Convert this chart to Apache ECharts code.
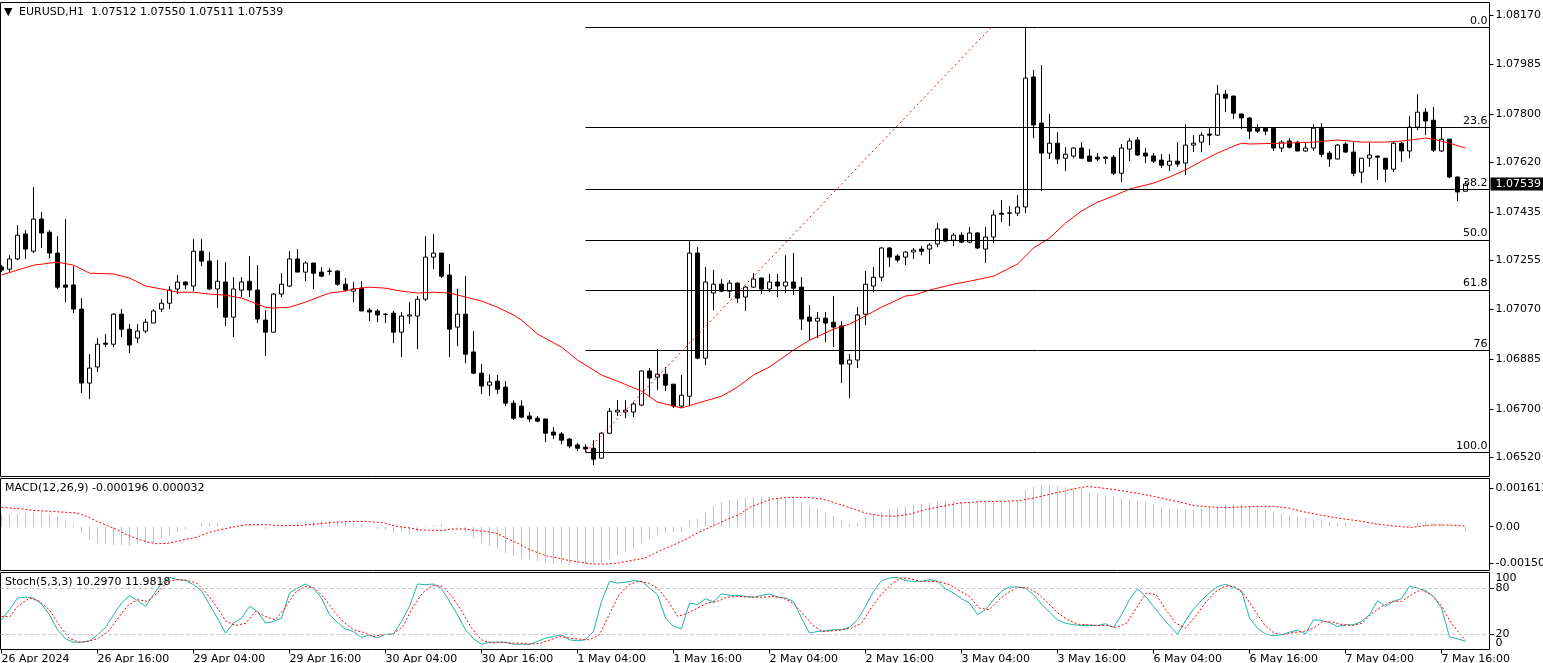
<!DOCTYPE html>
<html><head><meta charset="utf-8">
<script src="https://cdn.jsdelivr.net/npm/echarts@6/dist/echarts.min.js"></script>
<style>html,body{margin:0;padding:0;background:#fff}#c{width:1543px;height:663px}</style>
</head><body><div id="c"></div>
<script>
// ---------------- DATA ----------------
const symbolName = 'EURUSD,H1';
const timeTickIdx = [0,12,24,36,48,60,72,84,96,108,120,132,144,156,168,180];
const timeTickLabels = ['26 Apr 2024','26 Apr 16:00','29 Apr 04:00','29 Apr 16:00','30 Apr 04:00','30 Apr 16:00','1 May 04:00','1 May 16:00','2 May 04:00','2 May 16:00','3 May 04:00','3 May 16:00','6 May 04:00','6 May 16:00','7 May 04:00','7 May 16:00'];

const opens = [
1.07229,1.07221,1.07259,1.07352,1.07288,1.07408,1.07359,1.07281,1.07162,1.07162,
1.07072,1.06796,1.06856,1.06945,1.06941,1.07053,1.06997,1.06964,1.06990,1.07020,
1.07072,1.07094,1.07147,1.07173,1.07158,1.07288,1.07251,1.07147,1.07173,1.07042,
1.07143,1.07176,1.07143,1.07031,1.06986,1.07128,1.07158,1.07259,1.07210,1.07244,
1.07210,1.07214,1.07214,1.07165,1.07139,1.07150,1.07068,1.07065,1.07053,1.07057,
1.06986,1.07046,1.07046,1.07109,1.07266,1.07281,1.07199,1.07005,1.07053,1.06912,
1.06833,1.06788,1.06803,1.06781,1.06721,1.06710,1.06673,1.06665,1.06662,1.06613,
1.06606,1.06587,1.06565,1.06557,1.06553,1.06516,1.06609,1.06688,1.06688,1.06688,
1.06714,1.06841,1.06818,1.06829,1.06792,1.06710,1.06747,1.07281,1.06889,1.07132,
1.07165,1.07139,1.07169,1.07117,1.07154,1.07188,1.07147,1.07173,1.07158,1.07173,
1.07154,1.07042,1.07027,1.07038,1.07023,1.07009,1.06867,1.06882,1.07053,1.07158,
1.07191,1.07300,1.07270,1.07266,1.07285,1.07296,1.07296,1.07315,1.07371,1.07329,
1.07348,1.07322,1.07356,1.07296,1.07341,1.07430,1.07430,1.07430,1.07453,1.07938,
1.07766,1.07654,1.07691,1.07635,1.07643,1.07673,1.07643,1.07639,1.07639,1.07639,
1.07579,1.07669,1.07703,1.07654,1.07643,1.07628,1.07609,1.07624,1.07617,1.07684,
1.07695,1.07725,1.07721,1.07874,1.07867,1.07800,1.07785,1.07747,1.07747,1.07747,
1.07673,1.07699,1.07695,1.07662,1.07673,1.07747,1.07654,1.07632,1.07688,1.07658,
1.07583,1.07635,1.07643,1.07635,1.07594,1.07691,1.07662,1.07751,1.07807,1.07777,
1.07662,1.07706,1.07565,1.07512];
const closes = [
1.07218,1.07259,1.07348,1.07296,1.07408,1.07356,1.07281,1.07154,1.07154,1.07072,
1.06796,1.06852,1.06941,1.06941,1.07053,1.06997,1.06938,1.06990,1.07023,1.07065,
1.07094,1.07143,1.07173,1.07162,1.07288,1.07251,1.07147,1.07176,1.07042,1.07147,
1.07173,1.07143,1.07035,1.06986,1.07128,1.07165,1.07259,1.07210,1.07244,1.07206,
1.07195,1.07213,1.07165,1.07143,1.07147,1.07065,1.07061,1.07050,1.07052,1.06986,
1.07046,1.07050,1.07109,1.07266,1.07281,1.07195,1.06997,1.07053,1.06904,1.06833,
1.06785,1.06800,1.06773,1.06721,1.06665,1.06669,1.06662,1.06654,1.06609,1.06602,
1.06583,1.06561,1.06553,1.06550,1.06512,1.06609,1.06691,1.06695,1.06695,1.06718,
1.06841,1.06815,1.06829,1.06788,1.06710,1.06751,1.07281,1.06889,1.07173,1.07165,
1.07139,1.07169,1.07113,1.07154,1.07184,1.07147,1.07173,1.07158,1.07173,1.07150,
1.07035,1.07027,1.07038,1.07020,1.07005,1.06867,1.06882,1.07050,1.07165,1.07191,
1.07300,1.07266,1.07255,1.07285,1.07292,1.07288,1.07311,1.07371,1.07326,1.07348,
1.07322,1.07356,1.07300,1.07341,1.07423,1.07426,1.07431,1.07453,1.07934,1.07759,
1.07654,1.07691,1.07632,1.07650,1.07673,1.07635,1.07624,1.07632,1.07635,1.07579,
1.07673,1.07699,1.07647,1.07643,1.07624,1.07609,1.07624,1.07613,1.07684,1.07691,
1.07721,1.07721,1.07874,1.07859,1.07803,1.07785,1.07736,1.07736,1.07736,1.07673,
1.07695,1.07676,1.07662,1.07673,1.07747,1.07650,1.07632,1.07684,1.07658,1.07579,
1.07635,1.07647,1.07639,1.07594,1.07691,1.07662,1.07751,1.07807,1.07774,1.07665,
1.07706,1.07565,1.07509,1.07539];
const lows = [
1.07210,1.07210,1.07255,1.07259,1.07281,1.07300,1.07262,1.07147,1.07098,1.07057,
1.06759,1.06736,1.06837,1.06930,1.06930,1.06968,1.06908,1.06945,1.06982,1.07020,
1.07061,1.07072,1.07128,1.07147,1.07139,1.07232,1.07143,1.07076,1.07009,1.06968,
1.07117,1.07117,1.07020,1.06897,1.06986,1.07117,1.07154,1.07210,1.07176,1.07147,
1.07191,1.07199,1.07158,1.07139,1.07098,1.07065,1.07027,1.07023,1.07020,1.06945,
1.06893,1.07016,1.06923,1.07102,1.07221,1.07188,1.06893,1.06934,1.06870,1.06829,
1.06755,1.06747,1.06755,1.06710,1.06658,1.06665,1.06650,1.06650,1.06576,1.06587,
1.06568,1.06553,1.06542,1.06538,1.06490,1.06516,1.06606,1.06673,1.06665,1.06669,
1.06710,1.06744,1.06770,1.06766,1.06703,1.06703,1.06710,1.06885,1.06863,1.07068,
1.07135,1.07113,1.07094,1.07065,1.07152,1.07128,1.07135,1.07117,1.07132,1.07124,
1.06994,1.06956,1.06964,1.06949,1.06930,1.06796,1.06740,1.06852,1.07012,1.07135,
1.07176,1.07229,1.07247,1.07236,1.07259,1.07273,1.07240,1.07303,1.07322,1.07307,
1.07318,1.07318,1.07296,1.07244,1.07318,1.07397,1.07382,1.07419,1.07430,1.07710,
1.07512,1.07632,1.07613,1.07587,1.07635,1.07633,1.07621,1.07624,1.07613,1.07572,
1.07546,1.07624,1.07643,1.07617,1.07617,1.07598,1.07587,1.07602,1.07572,1.07658,
1.07658,1.07684,1.07718,1.07807,1.07781,1.07744,1.07706,1.07729,1.07721,1.07662,
1.07658,1.07671,1.07661,1.07658,1.07662,1.07639,1.07602,1.07631,1.07654,1.07568,
1.07542,1.07602,1.07553,1.07546,1.07583,1.07621,1.07635,1.07740,1.07721,1.07658,
1.07658,1.07561,1.07475,1.07511];
const highs = [
1.07236,1.07273,1.07385,1.07367,1.07527,1.07434,1.07367,1.07344,1.07408,1.07232,
1.07113,1.06904,1.06964,1.06979,1.07057,1.07072,1.07016,1.07016,1.07035,1.07072,
1.07109,1.07158,1.07199,1.07176,1.07333,1.07333,1.07285,1.07255,1.07247,1.07191,
1.07191,1.07270,1.07236,1.07068,1.07132,1.07206,1.07288,1.07296,1.07251,1.07244,
1.07229,1.07225,1.07218,1.07188,1.07173,1.07176,1.07076,1.07072,1.07057,1.07065,
1.07061,1.07098,1.07121,1.07344,1.07352,1.07281,1.07240,1.07147,1.07195,1.06990,
1.06867,1.06829,1.06826,1.06803,1.06732,1.06732,1.06688,1.06673,1.06662,1.06632,
1.06613,1.06591,1.06572,1.06568,1.06583,1.06613,1.06703,1.06732,1.06732,1.06725,
1.06844,1.06852,1.06923,1.06856,1.06792,1.06826,1.07329,1.07303,1.07229,1.07218,
1.07184,1.07180,1.07171,1.07158,1.07206,1.07190,1.07203,1.07203,1.07273,1.07281,
1.07191,1.07087,1.07061,1.07061,1.07121,1.07027,1.06904,1.07079,1.07214,1.07229,
1.07303,1.07303,1.07277,1.07288,1.07300,1.07307,1.07318,1.07393,1.07374,1.07356,
1.07359,1.07378,1.07359,1.07378,1.07441,1.07479,1.07456,1.07497,1.08124,1.07964,
1.07982,1.07800,1.07732,1.07676,1.07676,1.07695,1.07669,1.07654,1.07643,1.07647,
1.07688,1.07710,1.07714,1.07673,1.07654,1.07650,1.07650,1.07695,1.07762,1.07721,
1.07732,1.07747,1.07908,1.07889,1.07868,1.07801,1.07788,1.07762,1.07748,1.07748,
1.07703,1.07710,1.07699,1.07691,1.07762,1.07766,1.07662,1.07688,1.07695,1.07695,
1.07636,1.07691,1.07644,1.07636,1.07695,1.07695,1.07792,1.07874,1.07822,1.07826,
1.07747,1.07707,1.07566,1.07550];

// moving average (read at these bar indices)
const maX = [0,4,7,9,11,14,16,18,20,22,24,26,28,30,31,33,34,36,38,40,41,43,44,46,48,50,52,54,56,58,60,62,64,65,67,70,72,75,77,80,82,85,87,90,92,94,96,99,101,104,106,107,110,113,114,116,119,121,124,125,126,127,129,131,133,135,137,139,141,144,146,148,150,152,154,155,156,160,164,167,170,173,175,178,179,181,183];
const maY = [1.07199,1.07236,1.07247,1.07236,1.07206,1.07203,1.07188,1.07158,1.07147,1.07135,1.07135,1.07128,1.07124,1.07113,1.07102,1.07079,1.07076,1.07079,1.07098,1.07121,1.07132,1.07139,1.07147,1.07154,1.07150,1.07139,1.07132,1.07135,1.07132,1.07117,1.07102,1.07079,1.07050,1.07031,1.06979,1.06930,1.06882,1.06826,1.06803,1.06766,1.06725,1.06703,1.06721,1.06747,1.06781,1.06826,1.06856,1.06919,1.06956,1.06997,1.07016,1.07031,1.07079,1.07121,1.07124,1.07143,1.07165,1.07176,1.07195,1.07210,1.07225,1.07240,1.07300,1.07337,1.07393,1.07438,1.07471,1.07494,1.07520,1.07542,1.07565,1.07591,1.07624,1.07654,1.07680,1.07691,1.07688,1.07691,1.07695,1.07703,1.07695,1.07695,1.07699,1.07710,1.07706,1.07691,1.07673];

// MACD main (histogram), one per bar
const macdHist = [
526e-6,526e-6,526e-6,567e-6,567e-6,567e-6,526e-6,429e-6,263e-6,97e-6,
-263e-6,-539e-6,-678e-6,-705e-6,-747e-6,-747e-6,-788e-6,-719e-6,-678e-6,-636e-6,
-512e-6,-360e-6,-221e-6,-124e-6,-15e-6,152e-6,152e-6,152e-6,20e-6,20e-6,
83e-6,83e-6,83e-6,-83e-6,-28e-6,-28e-6,-28e-6,152e-6,249e-6,221e-6,
249e-6,249e-6,221e-6,180e-6,152e-6,111e-6,41e-6,-83e-6,-124e-6,-263e-6,
-194e-6,-290e-6,-221e-6,41e-6,69e-6,111e-6,-14e-6,41e-6,-221e-6,-470e-6,
-678e-6,-788e-6,-913e-6,-1093e-6,-1203e-6,-1328e-6,-1369e-6,-1411e-6,-1480e-6,-1535e-6,
-1535e-6,-1577e-6,-1549e-6,-1549e-6,-1535e-6,-1507e-6,-1342e-6,-1189e-6,-1023e-6,-913e-6,
-678e-6,-498e-6,-332e-6,-263e-6,-221e-6,-221e-6,290e-6,332e-6,609e-6,857e-6,
1010e-6,1120e-6,1162e-6,1189e-6,1217e-6,1231e-6,1231e-6,1148e-6,1176e-6,1176e-6,
1010e-6,871e-6,733e-6,567e-6,456e-6,277e-6,111e-6,152e-6,387e-6,498e-6,
622e-6,705e-6,802e-6,844e-6,899e-6,940e-6,982e-6,1051e-6,1079e-6,1079e-6,
1010e-6,1010e-6,1010e-6,1010e-6,1010e-6,1037e-6,1037e-6,1079e-6,1521e-6,1673e-6,
1715e-6,1715e-6,1687e-6,1632e-6,1590e-6,1563e-6,1424e-6,1383e-6,1314e-6,1245e-6,
1176e-6,1134e-6,1079e-6,1010e-6,940e-6,830e-6,705e-6,705e-6,705e-6,705e-6,
733e-6,802e-6,844e-6,913e-6,940e-6,913e-6,844e-6,802e-6,705e-6,622e-6,
526e-6,498e-6,387e-6,346e-6,290e-6,290e-6,180e-6,152e-6,152e-6,41e-6,
14e-6,14e-6,5e-6,-69e-6,-5e-6,-5e-6,69e-6,152e-6,180e-6,152e-6,
152e-6,83e-6,-69e-6,-196e-6];

// MACD signal line (read at these bar positions)
const sigX = [0,2.34,4.0,6.09,8.17,9.42,10.67,11.92,13.17,14.42,15.67,16.92,18.17,19.42,20.67,21.92,23.17,24.42,25.67,27.34,29.0,30.67,33.17,35.25,37.34,39.42,41.5,43.6,45.67,47.96,48.8,50.05,51.1,52.13,53.38,55.05,56.3,57.96,59.0,60.46,61.71,62.55,63.38,64.63,65.88,67.13,68.38,69.63,70.88,72.13,73.8,75.46,77.13,78.8,80.46,82.13,83.8,85.46,87.13,88.8,90.46,92.13,93.8,95.46,96.3,98.3,100.7,102.6,104.4,106.3,108.1,109.9,111.8,113.6,115.5,117.3,119.8,122.2,124.7,127.1,129.0,131.5,133.9,135.7,137.6,140.0,142.5,145.0,147.4,149.2,151.7,154.1,156.6,159.0,160.9,162.7,164.6,167.0,169.5,171.9,174.4,176.2,178.7,181.1,183];
const sigY = [802e-6,747e-6,678e-6,636e-6,595e-6,567e-6,429e-6,221e-6,55e-6,-124e-6,-332e-6,-498e-6,-636e-6,-705e-6,-692e-6,-609e-6,-512e-6,-443e-6,-263e-6,-124e-6,-14e-6,83e-6,83e-6,41e-6,55e-6,111e-6,180e-6,221e-6,221e-6,152e-6,55e-6,-14e-6,-55e-6,-124e-6,-152e-6,-152e-6,-97e-6,-97e-6,-152e-6,-194e-6,-263e-6,-373e-6,-512e-6,-705e-6,-927e-6,-1093e-6,-1231e-6,-1300e-6,-1397e-6,-1466e-6,-1549e-6,-1549e-6,-1507e-6,-1397e-6,-1300e-6,-1023e-6,-788e-6,-539e-6,-235e-6,14e-6,263e-6,498e-6,844e-6,1051e-6,1148e-6,1217e-6,1217e-6,1148e-6,968e-6,761e-6,553e-6,456e-6,429e-6,526e-6,705e-6,830e-6,982e-6,1037e-6,1051e-6,1079e-6,1189e-6,1383e-6,1563e-6,1673e-6,1604e-6,1494e-6,1355e-6,1189e-6,1010e-6,871e-6,802e-6,802e-6,844e-6,844e-6,774e-6,622e-6,498e-6,360e-6,249e-6,111e-6,14e-6,-28e-6,69e-6,69e-6,32e-6];

// Stochastic %K, one per bar
const stochK = [
38.5,51.8,67.2,68.5,67.2,59.3,45.2,25.3,13.4,9.0,
9.0,10.8,18.7,28.4,45.2,60.6,70.3,63.7,56.2,71.6,
87.0,94.5,91.4,90.6,84.8,76.9,58.4,40.7,20.9,34.1,
40.7,56.2,49.6,34.1,36.3,40.7,73.8,80.4,85.7,79.5,
67.2,45.2,35.0,26.2,23.1,15.2,18.7,14.3,19.6,19.6,
36.3,56.2,85.7,84.8,85.7,79.5,62.8,45.2,25.3,13.4,
6.3,9.0,9.0,9.0,6.3,6.3,6.3,9.9,14.3,16.5,
18.7,12.1,10.8,12.1,23.1,62.8,89.2,87.0,87.9,90.1,
89.2,80.4,71.6,40.7,29.7,26.6,60.6,58.4,66.3,61.9,
72.9,70.7,70.7,69.4,68.1,70.7,72.5,68.5,67.2,62.8,
40.7,20.9,23.1,24.0,25.3,25.3,28.8,38.5,56.2,76.0,
90.1,93.7,94.5,90.1,89.2,89.2,91.4,89.2,79.5,73.8,
66.3,60.6,45.2,51.8,65.0,76.0,81.7,81.7,80.4,71.6,
59.3,48.7,38.5,34.1,31.9,31.0,31.0,31.0,33.2,28.4,
45.2,65.0,79.5,69.4,56.2,42.9,30.6,19.6,37.2,52.6,
64.1,74.3,82.2,85.3,81.3,76.9,40.7,27.5,19.6,17.4,
18.7,22.2,24.9,20.0,38.5,37.6,35.0,29.7,31.9,31.9,
36.3,45.2,63.7,56.2,62.8,66.3,82.6,80.4,76.9,69.4,
54.0,16.0,13.4,10.2970];

// Stochastic %D (signal), read at these bar positions
const stochDX = [0,1.07,2.0,3.52,4.75,5.98,7.2,8.43,9.66,10.89,12.11,13.34,14.57,15.8,17.03,18.25,19.48,20.71,21.94,23.16,24.39,25.62,26.85,28.07,29.3,30.53,31.76,32.99,34.21,35.44,36.67,37.9,39.12,40.35,41.58,42.81,44.04,45.26,46.49,47.72,48.95,50.17,51.4,52.63,53.86,55.09,56.31,57.54,58.77,60.0,61.23,62.45,63.68,64.91,66.14,67.36,68.59,69.82,71.05,72.28,73.5,74.73,75.96,77.19,78.41,79.64,80.87,82.1,83.33,84.55,85.78,87.0,88.24,89.47,90.69,91.92,93.15,94.38,95.6,96.44,97.67,98.9,100.12,101.35,102.58,103.81,105.03,106.26,107.49,108.72,109.94,111.17,112.4,113.63,114.86,116.08,117.31,118.54,119.77,120.99,122.22,123.45,124.68,125.91,127.13,128.36,129.59,130.82,132.04,133.27,134.5,135.73,136.95,138.18,139.41,140.64,141.87,143.09,144.32,145.55,146.78,148.0,149.23,150.46,151.69,152.92,154.14,155.37,156.6,157.83,159.06,160.28,161.51,162.74,163.97,165.19,166.42,167.65,168.88,170.1,171.33,172.56,173.79,175.02,176.24,177.47,178.7,179.93,181.15,182.38,183];
const stochDY = [42.9,42.9,56.2,67.2,62.8,51.8,31.9,14.3,9.0,9.9,14.3,23.1,40.7,57.5,65.0,62.8,73.8,89.2,91.4,90.6,87.0,73.8,56.2,36.3,31.0,34.1,49.6,42.9,38.5,54.0,73.8,82.6,80.4,67.2,49.6,35.0,25.3,21.8,16.5,18.7,19.6,29.7,54.8,73.8,83.9,82.6,69.4,49.6,27.5,12.1,7.7,9.0,7.7,7.7,6.3,7.7,12.1,16.5,14.3,13.0,12.1,18.7,45.2,71.6,84.8,89.2,87.0,79.5,62.8,42.9,47.4,54.0,60.6,62.8,68.1,69.4,68.5,68.1,68.5,69.4,67.2,60.6,47.4,31.9,23.1,24.0,25.3,27.5,34.1,54.0,71.6,84.8,93.7,92.8,89.2,89.2,88.4,84.8,76.9,69.4,54.0,51.8,65.0,75.1,81.3,80.4,72.5,60.6,47.4,38.5,32.8,31.9,31.0,31.0,28.4,34.1,54.0,73.8,71.6,51.8,34.1,27.5,42.9,60.6,75.1,82.6,82.6,71.6,51.8,32.8,20.9,18.7,21.8,23.1,27.5,36.3,35.4,31.9,31.0,34.1,47.4,56.2,62.8,62.8,71.6,78.2,71.6,58.4,35.0,18.7,11.9818];

// axis tick labels
const priceTicks = [1.08170,1.07985,1.07800,1.07620,1.07435,1.07255,1.07070,1.06885,1.06700,1.06520];
const macdTicks = [0.001613, 0, -0.0015];
const macdTickLabels = ['0.001613','0.00','-0.00150'];
const stochTicks = [100, 80, 20, 0];
const stochTickLabels = ['100','80','20','0'];

// Fibonacci retracement
const fibLevels = [0, 23.6, 38.2, 50, 61.8, 76, 100];
const fibLabels = ['0.0','23.6','38.2','50.0','61.8','76','100.0'];
const fibLowAnchor = {bar: 73, price: 1.06538};
const fibHighAnchor = {bar: 123.7, price: 1.08123};

// ---------------- CHART ----------------
const F = 'DejaVu Sans';
const N = opens.length;
const GRID_W = 1489;
const XMIN = -0.125, XMAX = XMIN + GRID_W / 8;
const P_MAX = 1.082160, P_MIN = 1.064474;
const M_MAX = 0.0020004, M_MIN = -0.0018177;
const S_MIN = -0.66, S_MAX = 100.84;

const candleData = opens.map((o, i) => [i, o, closes[i], lows[i], highs[i]]);
const fibRange = fibHighAnchor.price - fibLowAnchor.price;
const fibLines = fibLevels.map((L, i) => {
  const p = fibHighAnchor.price - L / 100 * fibRange;
  return [{name: fibLabels[i], coord: [fibLowAnchor.bar, p]}, {coord: [XMAX, p]}];
});
const trendLine = [
  {coord: [fibLowAnchor.bar, fibLowAnchor.price], lineStyle: {color: '#ff0000', type: [2, 3], width: 1}, label: {show: false}},
  {coord: [fibHighAnchor.bar, fibHighAnchor.price]}
];
const lastClose = closes[N - 1];
const priceTag = {
  yAxis: lastClose, name: lastClose.toFixed(5),
  lineStyle: {color: 'rgba(0,0,0,0)'},
  label: {show: true, position: 'end', formatter: '{b}', color: '#fff', backgroundColor: '#000',
          padding: [1, 6, 0, 5], distance: 1, fontFamily: F, fontSize: 11, lineHeight: 12}
};

const header = symbolName + '  ' + [opens[N-1], highs[N-1], lows[N-1], closes[N-1]].map(v => v.toFixed(5)).join(' ');
const macdText = 'MACD(12,26,9) ' + macdHist[N-1].toFixed(6) + ' ' + sigY[sigY.length-1].toFixed(6);
const stochText = 'Stoch(5,3,3) ' + stochK[N-1].toFixed(4) + ' ' + stochDY[stochDY.length-1].toFixed(4);

const txt = {fontFamily: F, fontSize: 11, color: '#000', fontWeight: 'normal'};
const gridBase = {left: 0.5, width: GRID_W, show: true, borderColor: '#000', borderWidth: 1,
                  backgroundColor: 'transparent', containLabel: false, outerBoundsMode: 'none'};
const hiddenX = (gi) => ({type: 'value', gridIndex: gi, min: XMIN, max: XMAX, show: false,
  splitLine: {show: false}, axisLine: {show: false, onZero: false}});
function findLabel(vals, labels, v) {
  for (let i = 0; i < vals.length; i++) if (Math.abs(vals[i] - v) < 1e-9) return labels[i];
  return '';
}
const yBase = (gi, min, max) => ({type: 'value', gridIndex: gi, position: 'right', min, max, scale: true,
  splitLine: {show: false}, axisLine: {show: false, onZero: false}});

const option = {
  animation: false,
  backgroundColor: '#fff',
  title: [
    {text: '\u25BC', left: 4, top: 7, padding: 0, textStyle: {...txt, fontSize: 11}},
    {text: header, left: 19, top: 7, padding: 0, textStyle: txt},
    {text: macdText, left: 5, top: 483, padding: 0, textStyle: txt},
    {text: stochText, left: 5, top: 577, padding: 0, textStyle: txt}
  ],
  grid: [
    {...gridBase, top: 2.5, height: 474},
    {...gridBase, top: 478.5, height: 92},
    {...gridBase, top: 572.5, height: 77}
  ],
  xAxis: [
    hiddenX(0), hiddenX(1),
    {type: 'value', gridIndex: 2, min: XMIN, max: XMAX, splitLine: {show: false},
     axisLine: {show: false, onZero: false},
     axisTick: {show: true, customValues: timeTickIdx, length: 4, lineStyle: {color: '#000', width: 1}},
     axisLabel: {show: true, customValues: timeTickIdx, formatter: v => findLabel(timeTickIdx, timeTickLabels, v),
                 align: 'left', margin: 4, ...txt, hideOverlap: false}}
  ],
  yAxis: [
    {...yBase(0, P_MIN, P_MAX),
     axisTick: {show: true, customValues: priceTicks, length: 4, lineStyle: {color: '#000'}},
     axisLabel: {show: true, customValues: priceTicks, formatter: v => v.toFixed(5), margin: 6, ...txt}},
    {...yBase(1, M_MIN, M_MAX),
     axisTick: {show: true, customValues: macdTicks, length: 4, lineStyle: {color: '#000'}},
     axisLabel: {show: true, customValues: macdTicks, formatter: v => findLabel(macdTicks, macdTickLabels, v), margin: 6, ...txt}},
    {...yBase(2, S_MIN, S_MAX),
     axisTick: {show: true, customValues: [stochTicks[1], stochTicks[2]], length: 4, lineStyle: {color: '#000'}},
     axisLabel: {show: true, customValues: [stochTicks[1], stochTicks[2]], formatter: v => findLabel(stochTicks, stochTickLabels, v), margin: 6, ...txt}},
    {...yBase(2, S_MIN, S_MAX), axisTick: {show: false},
     axisLabel: {show: true, customValues: [stochTicks[0]], formatter: v => findLabel(stochTicks, stochTickLabels, v), margin: 6, verticalAlign: 'top', ...txt}},
    {...yBase(2, S_MIN, S_MAX), axisTick: {show: false},
     axisLabel: {show: true, customValues: [stochTicks[3]], formatter: v => findLabel(stochTicks, stochTickLabels, v), margin: 6, verticalAlign: 'bottom', ...txt}}
  ],
  series: [
    {type: 'candlestick', name: 'price', xAxisIndex: 0, yAxisIndex: 0, data: candleData, barWidth: 4,
     itemStyle: {color: '#fff', color0: '#000', borderColor: '#000', borderColor0: '#000', borderWidth: 1},
     z: 2,
     markLine: {silent: true, symbol: ['none', 'none'], animation: false, precision: 5,
       lineStyle: {color: '#000', width: 1, type: 'solid'},
       label: {show: true, position: 'insideEndTop', formatter: '{b}', distance: [2, 1], ...txt},
       data: [...fibLines, trendLine, priceTag]}},
    {type: 'line', name: 'MA', xAxisIndex: 0, yAxisIndex: 0, data: maX.map((x, i) => [x, maY[i]]),
     symbol: 'none', lineStyle: {color: '#ff0000', width: 1}, z: 3},
    {type: 'bar', name: 'MACD', xAxisIndex: 1, yAxisIndex: 1, data: macdHist.map((v, i) => [i, v]),
     barWidth: 1, itemStyle: {color: '#c0c0c0'}, z: 2},
    {type: 'line', name: 'Signal', xAxisIndex: 1, yAxisIndex: 1, data: sigX.map((x, i) => [x, sigY[i]]),
     symbol: 'none', lineStyle: {color: '#ff0000', width: 1, type: [2, 2]}, z: 3},
    {type: 'line', name: '%K', xAxisIndex: 2, yAxisIndex: 2, data: stochK.map((v, i) => [i, v]),
     symbol: 'none', lineStyle: {color: '#20b2aa', width: 1}, z: 3,
     markLine: {silent: true, symbol: ['none', 'none'], animation: false, label: {show: false},
       lineStyle: {color: '#c0c0c0', type: [3, 3], width: 1},
       data: [{yAxis: stochTicks[1]}, {yAxis: stochTicks[2]}]}},
    {type: 'line', name: '%D', xAxisIndex: 2, yAxisIndex: 2, data: stochDX.map((x, i) => [x, stochDY[i]]),
     symbol: 'none', lineStyle: {color: '#ff0000', width: 1, type: [2, 2]}, z: 4}
  ]
};
const chart = echarts.init(document.getElementById('c'), null, {renderer: 'canvas', width: 1543, height: 663});
chart.setOption(option);
</script>
</body></html>
